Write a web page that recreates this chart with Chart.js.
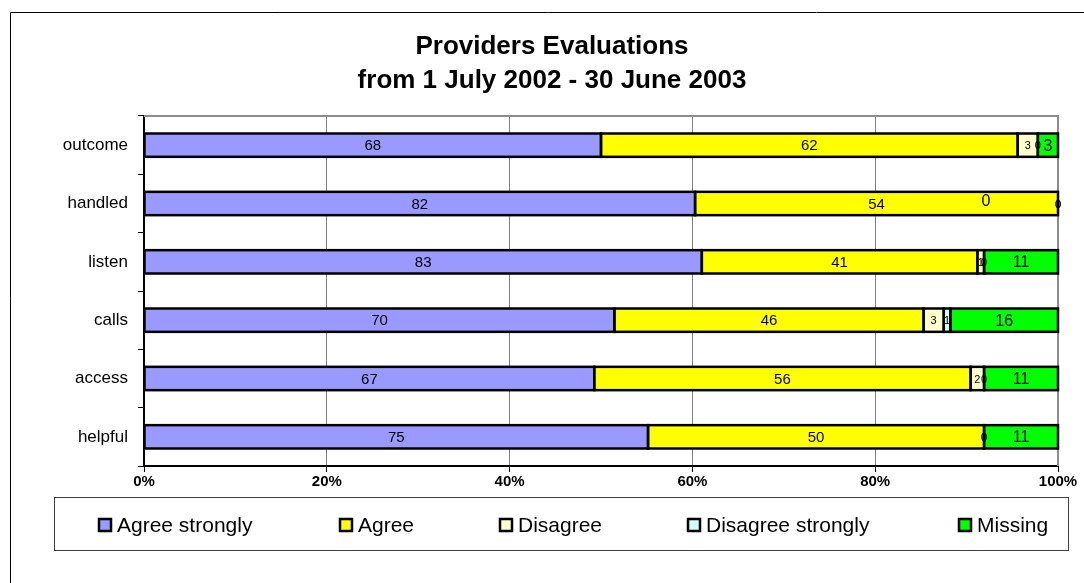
<!DOCTYPE html>
<html>
<head>
<meta charset="utf-8">
<script src="https://cdn.jsdelivr.net/npm/chart.js@4/dist/chart.umd.min.js"></script>
<style>
  html, body { margin: 0; padding: 0; background: #ffffff; }
  #wrap { width: 1084px; height: 583px; position: relative; }
</style>
</head>
<body>
<div id="wrap"><canvas id="c" width="1084" height="583"></canvas></div>
<script>
// ---- data ----
const categories = ["outcome", "handled", "listen", "calls", "access", "helpful"];
const agreeStrongly    = [68, 82, 83, 70, 67, 75];
const agree            = [62, 54, 41, 46, 56, 50];
const disagree         = [3, 0, 1, 3, 2, 0];
const disagreeStrongly = [0, 0, 0, 1, 0, 0];
const missing          = [3, 0, 11, 16, 11, 11];
const seriesNames = ["Agree strongly", "Agree", "Disagree", "Disagree strongly", "Missing"];
const xTickLabels = ["0%", "20%", "40%", "60%", "80%", "100%"];
const titleLines = ["Providers Evaluations", "from 1 July 2002 - 30 June 2003"];

// ---- build ----
const raw = [agreeStrongly, agree, disagree, disagreeStrongly, missing];
const totals = categories.map((_, i) => raw.reduce((s, arr) => s + arr[i], 0));
const colors = ["#9999FF", "#FFFF00", "#FFFFCC", "#CCFFFF", "#00FF00"];
const labelSizes = [15, 15, 11, 11, 16];
const FONT = "'Liberation Sans', Arial, sans-serif";

const datasets = raw.map((arr, k) => ({
  label: seriesNames[k],
  data: arr.map((v, i) => v / totals[i] * 100),
  rawValues: arr,
  backgroundColor: colors[k],
  borderWidth: 0,
  barPercentage: 0.4,
  categoryPercentage: 1.0
}));

const PLOT = { left: 144, right: 1058, top: 116, bottom: 466 };

const decor = {
  id: "decor",
  beforeDraw(chart) {
    const ctx = chart.ctx;
    ctx.save();
    ctx.fillStyle = "#ffffff";
    ctx.fillRect(0, 0, chart.width, chart.height);
    // outer chart border
    ctx.strokeStyle = "#000000";
    ctx.lineWidth = 1;
    ctx.beginPath();
    ctx.moveTo(10.5, chart.height + 5);
    ctx.lineTo(10.5, 12.5);
    ctx.lineTo(chart.width + 5, 12.5);
    ctx.stroke();
    // title
    ctx.fillStyle = "#000000";
    ctx.font = "bold 26px " + FONT;
    ctx.textAlign = "center";
    ctx.textBaseline = "middle";
    ctx.fillText(titleLines[0], 552, 47);
    ctx.fillText(titleLines[1], 552, 81);
    ctx.restore();
  },
  beforeDatasetsDraw(chart) {
    const ctx = chart.ctx;
    const a = chart.chartArea;
    ctx.save();
    ctx.strokeStyle = "#8c8c8c";
    ctx.lineWidth = 2;
    ctx.beginPath();
    ctx.moveTo(a.left, a.top);
    ctx.lineTo(a.right, a.top);
    ctx.lineTo(a.right, a.bottom);
    ctx.stroke();
    ctx.restore();
  },
  afterDatasetsDraw(chart) {
    const ctx = chart.ctx;
    ctx.save();
    // segment outlines, centred on the segment edges
    ctx.strokeStyle = "#000000";
    ctx.lineWidth = 2.5;
    chart.data.datasets.forEach((ds, k) => {
      const meta = chart.getDatasetMeta(k);
      meta.data.forEach((el) => {
        const x0 = Math.min(el.x, el.base), x1 = Math.max(el.x, el.base);
        const y0 = el.y - el.height / 2;
        if (x1 - x0 < 0.01) return;
        ctx.strokeRect(x0, y0, x1 - x0, el.height);
      });
    });
    // value labels
    ctx.fillStyle = "#000000";
    ctx.textAlign = "center";
    ctx.textBaseline = "middle";
    const nDs = chart.data.datasets.length;
    chart.data.datasets.forEach((ds, k) => {
      const meta = chart.getDatasetMeta(k);
      ctx.font = labelSizes[k] + "px " + FONT;
      meta.data.forEach((el, i) => {
        const v = ds.rawValues[i];
        let x = (el.x + el.base) / 2;
        let y = el.y;
        if (v === 0 && k === nDs - 1 && Math.abs(el.x - chart.chartArea.right) < 1) {
          // Excel pushed this zero label back inside the plot
          x = el.x - 72;
          y = el.y - 3;
        }
        ctx.fillText(String(v), x, y + 1);
      });
    });
    ctx.restore();
  },
  afterDraw(chart) {
    const ctx = chart.ctx;
    ctx.save();
    // legend box
    ctx.strokeStyle = "#404040";
    ctx.lineWidth = 1;
    ctx.strokeRect(54.5, 497.5, 1014, 53);
    const xs = [98, 339, 499, 687, 958];
    const cy = 525;
    ctx.font = "21px " + FONT;
    ctx.textAlign = "left";
    ctx.textBaseline = "middle";
    chart.data.datasets.forEach((ds, k) => {
      const x = xs[k];
      ctx.fillStyle = ds.backgroundColor;
      ctx.fillRect(x + 1, cy - 6, 12, 12);
      ctx.strokeStyle = "#000000";
      ctx.lineWidth = 2.5;
      ctx.strokeRect(x + 1, cy - 6, 12, 12);
      ctx.fillStyle = "#000000";
      ctx.fillText(ds.label, x + 19, cy + 1);
    });
    ctx.restore();
  }
};

new Chart(document.getElementById("c"), {
  type: "bar",
  data: { labels: categories, datasets },
  options: {
    indexAxis: "y",
    responsive: false,
    animation: false,
    devicePixelRatio: 1,
    layout: { padding: { top: PLOT.top, right: 1084 - PLOT.right, left: 0, bottom: 0 } },
    plugins: {
      legend: { display: false },
      title: { display: false },
      tooltip: { enabled: false }
    },
    scales: {
      x: {
        stacked: true,
        min: 0,
        max: 100,
        afterFit(scale) { scale.height = 583 - PLOT.bottom; },
        ticks: {
          stepSize: 20,
          color: "#000000",
          font: { family: FONT, size: 15, weight: "bold" },
          padding: 1,
          maxRotation: 0,
          callback: (v, i) => xTickLabels[i]
        },
        grid: {
          color: "#808080",
          lineWidth: 1,
          drawTicks: true,
          tickLength: 6,
          tickColor: "#000000"
        },
        border: { display: true, color: "#000000", width: 2 }
      },
      y: {
        stacked: true,
        afterFit(scale) { scale.width = PLOT.left; },
        ticks: {
          color: "#000000",
          font: { family: FONT, size: 17 },
          padding: 10
        },
        grid: {
          offset: true,
          drawOnChartArea: false,
          drawTicks: true,
          tickLength: 6,
          tickColor: "#000000"
        },
        border: { display: true, color: "#000000", width: 2 }
      }
    }
  },
  plugins: [decor]
});
</script>
</body>
</html>
